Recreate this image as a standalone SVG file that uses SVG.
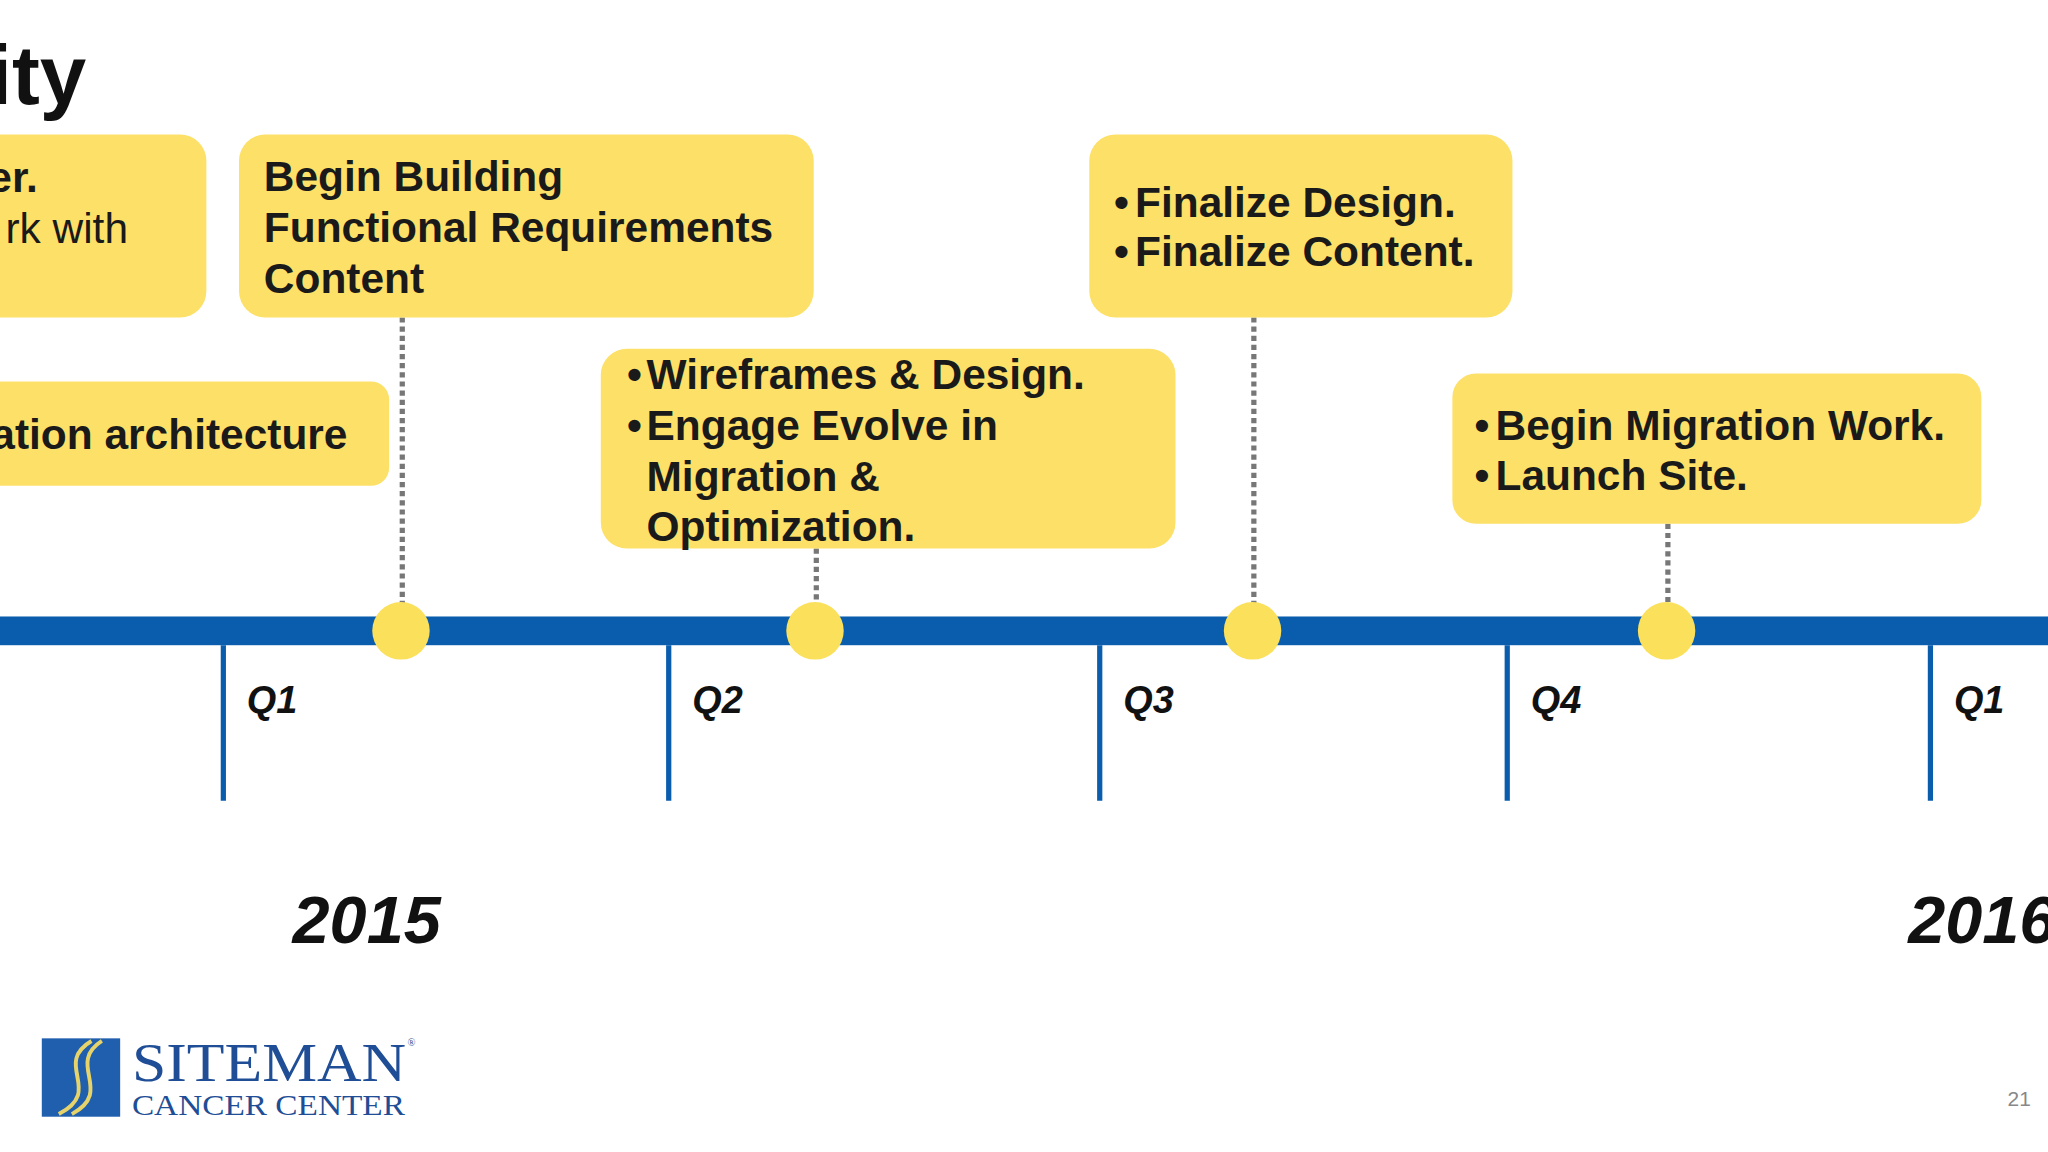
<svg xmlns="http://www.w3.org/2000/svg" width="2048" height="1152" viewBox="0 0 2048 1152">
<style>
.box{fill:#fde068}
.t{font-family:"Liberation Sans",Arial,sans-serif;font-weight:bold;font-size:32.5px;fill:#1a1a1a}
.r{font-weight:normal}
.q{font-family:"Liberation Sans",Arial,sans-serif;font-weight:bold;font-style:italic;font-size:29px;fill:#111}
.y{font-family:"Liberation Sans",Arial,sans-serif;font-weight:bold;font-style:italic;font-size:51px;fill:#111}
.dot{stroke:#777;stroke-width:4;stroke-dasharray:4 3}
.tick{stroke:#0a5cad;stroke-width:4}
.m{fill:#fbe05c}
</style>
<rect width="2048" height="1152" fill="#fff"/>
<g transform="scale(1.3061)">
<text x="66" y="80" text-anchor="end" font-family="Liberation Sans,Arial,sans-serif" font-weight="bold" font-size="64" fill="#111">ity</text>
<g id="connectors">
<line class="dot" x1="308" y1="243" x2="308" y2="462"/>
<line class="dot" x1="625" y1="420" x2="625" y2="462"/>
<line class="dot" x1="960" y1="243" x2="960" y2="462"/>
<line class="dot" x1="1277" y1="401" x2="1277" y2="462"/>
</g>
<g id="timeline">
<rect x="0" y="472" width="1570" height="22" fill="#0a5cad"/>
<line class="tick" x1="171" y1="494" x2="171" y2="613"/>
<line class="tick" x1="512" y1="494" x2="512" y2="613"/>
<line class="tick" x1="842" y1="494" x2="842" y2="613"/>
<line class="tick" x1="1154" y1="494" x2="1154" y2="613"/>
<line class="tick" x1="1478" y1="494" x2="1478" y2="613"/>
<circle class="m" cx="307" cy="483" r="22"/>
<circle class="m" cx="624" cy="483" r="22"/>
<circle class="m" cx="959" cy="483" r="22"/>
<circle class="m" cx="1276" cy="483" r="22"/>
<text class="q" x="189" y="546">Q1</text>
<text class="q" x="530" y="546">Q2</text>
<text class="q" x="860" y="546">Q3</text>
<text class="q" x="1172" y="546">Q4</text>
<text class="q" x="1496" y="546">Q1</text>
<text class="y" x="224" y="722">2015</text>
<text class="y" x="1461" y="722">2016</text>
</g>
<g id="box1"><rect class="box" x="-30" y="103" width="188" height="140" rx="20"/>
<text class="t" x="29" y="147" text-anchor="end">er.</text><text class="t r" x="98" y="186" text-anchor="end">rk with</text></g>
<g id="box2"><rect class="box" x="183" y="103" width="440" height="140" rx="20"/>
<text class="t" x="202" y="146">Begin Building</text><text class="t" x="202" y="185">Functional Requirements</text><text class="t" x="202" y="224">Content</text></g>
<g id="box3"><rect class="box" x="-30" y="292" width="328" height="80" rx="14"/>
<text class="t" x="266" y="344" text-anchor="end">ation architecture</text></g>
<g id="box4"><rect class="box" x="460" y="267" width="440" height="153" rx="20"/>
<text class="t" x="480" y="298">•</text><text class="t" x="495" y="298">Wireframes &amp; Design.</text>
<text class="t" x="480" y="337">•</text><text class="t" x="495" y="337">Engage Evolve in</text>
<text class="t" x="495" y="376">Migration &amp;</text><text class="t" x="495" y="414">Optimization.</text></g>
<g id="box5"><rect class="box" x="834" y="103" width="324" height="140" rx="20"/>
<text class="t" x="853" y="166">•</text><text class="t" x="869" y="166">Finalize Design.</text>
<text class="t" x="853" y="204">•</text><text class="t" x="869" y="204">Finalize Content.</text></g>
<g id="box6"><rect class="box" x="1112" y="286" width="405" height="115" rx="18"/>
<text class="t" x="1129" y="337">•</text><text class="t" x="1145" y="337">Begin Migration Work.</text>
<text class="t" x="1129" y="375">•</text><text class="t" x="1145" y="375">Launch Site.</text></g>
<g id="logo">
<rect x="32" y="795" width="60" height="60" fill="#1f5fae"/>
<path d="M70 797 C40 815 80 835 45 853 M78 797 C50 815 88 835 55 853" stroke="#e6d36a" stroke-width="3" fill="none"/>
<text x="101" y="828" textLength="210" lengthAdjust="spacingAndGlyphs" font-family="Liberation Serif,Times New Roman,serif" font-size="42" fill="#1f4e96">SITEMAN</text>
<text x="312" y="801" font-family="Liberation Serif,serif" font-size="8" fill="#1f4e96">®</text>
<text x="101" y="854" textLength="209" lengthAdjust="spacingAndGlyphs" font-family="Liberation Serif,Times New Roman,serif" font-size="23" fill="#1f4e96">CANCER CENTER</text>
</g>
<text x="1546" y="847" text-anchor="middle" font-family="Liberation Sans,Arial,sans-serif" font-size="16" fill="#888">21</text>
</g>
</svg>
